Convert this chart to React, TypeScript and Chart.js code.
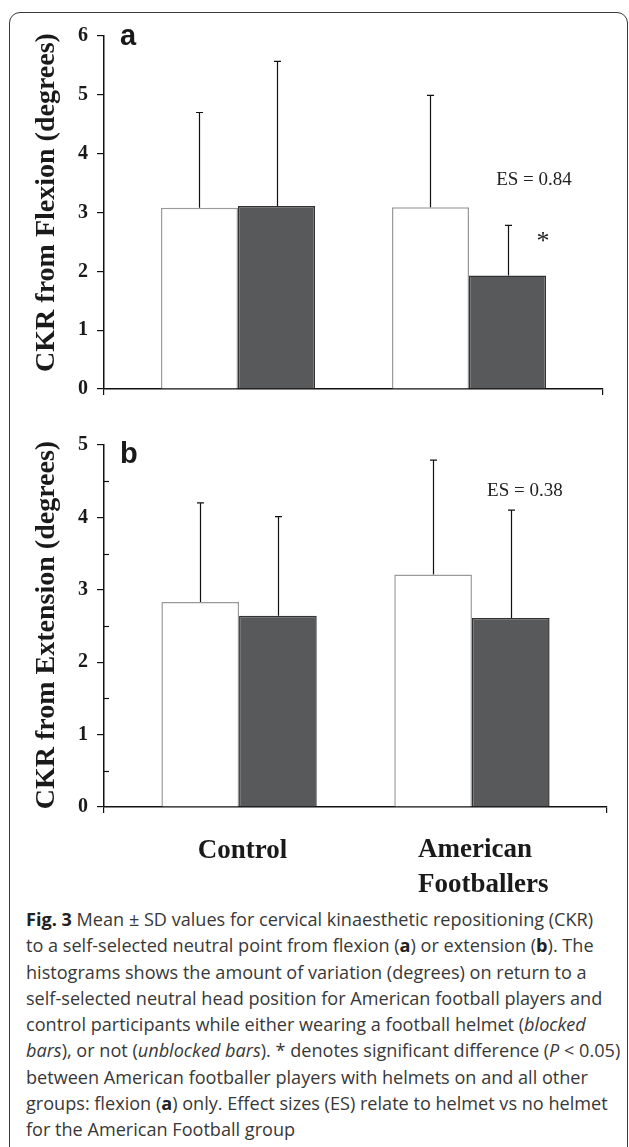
import React, { useEffect, useRef } from 'react';
import { Chart, registerables } from 'chart.js';

Chart.register(...registerables);

// ---- data ----
const categories = ['Control', 'American Footballers'];
const seriesNames = ['No helmet', 'Helmet'];

const flexionNoHelmetMean = [3.08, 3.09];
const flexionNoHelmetSD = [1.62, 1.9];
const flexionHelmetMean = [3.11, 1.93];
const flexionHelmetSD = [2.46, 0.85];

const extensionNoHelmetMean = [2.83, 3.21];
const extensionNoHelmetSD = [1.37, 1.58];
const extensionHelmetMean = [2.64, 2.61];
const extensionHelmetSD = [1.37, 1.49];

const flexionAxisMax = 6;
const extensionAxisMax = 5;
const extensionMinorTicks = [0.5, 1.5, 2.5, 3.5, 4.5];

const flexionTitle = 'CKR from Flexion (degrees)';
const extensionTitle = 'CKR from Extension (degrees)';
const flexionES = 'ES = 0.84';
const extensionES = 'ES = 0.38';

const SERIF = '"Liberation Serif", "Times New Roman", serif';
const SANS = '"Liberation Sans", Arial, sans-serif';

const errorBarPlugin = {
  id: 'errorBars',
  afterDatasetsDraw(chart: any) {
    const ctx = chart.ctx;
    const y = chart.scales.y;
    chart.data.datasets.forEach((ds: any, di: number) => {
      const meta = chart.getDatasetMeta(di);
      meta.data.forEach((bar: any, i: number) => {
        const mean = ds.data[i].y;
        const top = y.getPixelForValue(mean + ds.sd[i]);
        const x = Math.round(bar.x) + 0.5;
        ctx.save();
        ctx.strokeStyle = '#111';
        ctx.lineWidth = 1.2;
        ctx.beginPath();
        ctx.moveTo(x, bar.y);
        ctx.lineTo(x, top);
        ctx.moveTo(x - 3.5, top);
        ctx.lineTo(x + 3.5, top);
        ctx.stroke();
        ctx.restore();
      });
    });
  },
};

function makeConfig(
  noMean: number[],
  noSD: number[],
  hMean: number[],
  hSD: number[],
  yMax: number,
  padTop: number,
  padRight: number,
  xHeight: number,
  extras: (chart: any) => void
) {
  return {
    type: 'bar',
    data: {
      datasets: [
        {
          label: seriesNames[0],
          data: noMean.map((v, i) => ({ x: i + 1, y: v })),
          sd: noSD,
          backgroundColor: '#ffffff',
          borderColor: '#9a9a9a',
          borderWidth: 1.5,
        },
        {
          label: seriesNames[1],
          data: hMean.map((v, i) => ({ x: i + 1, y: v })),
          sd: hSD,
          backgroundColor: '#58595b',
          borderColor: '#333333',
          borderWidth: 1.5,
        },
      ],
    },
    options: {
      responsive: false,
      animation: false,
      events: [],
      categoryPercentage: 0.667,
      barPercentage: 1,
      layout: { padding: { top: padTop, right: padRight, left: 0, bottom: 0 } },
      plugins: { legend: { display: false }, tooltip: { enabled: false }, title: { display: false } },
      scales: {
        x: {
          type: 'linear',
          offset: false,
          min: 0.42,
          max: 2.58,
          afterBuildTicks: (s: any) => {
            s.ticks = [{ value: s.min }, { value: s.max }];
          },
          afterFit: (s: any) => {
            s.height = xHeight;
          },
          ticks: { display: false },
          grid: { display: true, offset: false, drawOnChartArea: false, drawTicks: true, tickLength: 6, color: '#111', lineWidth: 1.2 },
          border: { display: true, color: '#111', width: 1.5 },
        },
        y: {
          min: 0,
          max: yMax,
          afterFit: (s: any) => {
            s.width = 104;
          },
          ticks: {
            stepSize: 1,
            padding: 9,
            color: '#1a1a1a',
            font: { family: SERIF, size: 20, weight: 'bold' },
          },
          grid: { display: true, drawOnChartArea: false, drawTicks: true, tickLength: 7, color: '#111', lineWidth: 1.2 },
          border: { display: true, color: '#111', width: 1.5 },
        },
      },
    },
    plugins: [
      errorBarPlugin,
      {
        id: 'annotations',
        afterDraw(chart: any) {
          extras(chart);
        },
      },
    ],
  };
}

function drawTitle(ctx: CanvasRenderingContext2D, text: string, x: number, y: number) {
  ctx.save();
  ctx.translate(x, y);
  ctx.rotate(-Math.PI / 2);
  ctx.font = `bold 28px ${SERIF}`;
  ctx.fillStyle = '#1a1a1a';
  ctx.textAlign = 'center';
  ctx.textBaseline = 'middle';
  ctx.fillText(text, 0, 0);
  ctx.restore();
}

function drawPanelLetter(ctx: CanvasRenderingContext2D, text: string, x: number, y: number) {
  ctx.save();
  ctx.font = `bold 29px ${SANS}`;
  ctx.fillStyle = '#1a1a1a';
  ctx.textAlign = 'left';
  ctx.textBaseline = 'alphabetic';
  ctx.fillText(text, x, y);
  ctx.restore();
}

function drawES(ctx: CanvasRenderingContext2D, text: string, x: number, y: number) {
  ctx.save();
  ctx.font = `19px ${SERIF}`;
  ctx.fillStyle = '#222';
  ctx.textAlign = 'center';
  ctx.textBaseline = 'middle';
  ctx.fillText(text, x, y);
  ctx.restore();
}

const extrasA = (chart: any) => {
  const { ctx, chartArea } = chart;
  const xs = chart.scales.x;
  const ys = chart.scales.y;
  drawTitle(ctx, flexionTitle, chartArea.left - 57, (chartArea.top + chartArea.bottom) / 2 - 10);
  drawPanelLetter(ctx, 'a', chartArea.left + 16, chartArea.top + 9);
  drawES(ctx, flexionES, xs.getPixelForValue(2) + 65, ys.getPixelForValue(3.55));
  ctx.save();
  ctx.font = `26px ${SERIF}`;
  ctx.fillStyle = '#222';
  ctx.textAlign = 'center';
  ctx.textBaseline = 'middle';
  ctx.fillText('*', xs.getPixelForValue(2) + 74, ys.getPixelForValue(2.5));
  ctx.restore();
};

const extrasB = (chart: any) => {
  const { ctx, chartArea } = chart;
  const xs = chart.scales.x;
  const ys = chart.scales.y;
  drawTitle(ctx, extensionTitle, chartArea.left - 57, (chartArea.top + chartArea.bottom) / 2 - 1);
  drawPanelLetter(ctx, 'b', chartArea.left + 16, chartArea.top + 18);
  drawES(ctx, extensionES, xs.getPixelForValue(2) + 53, ys.getPixelForValue(4.37));
  // minor ticks (inside)
  ctx.save();
  ctx.strokeStyle = '#111';
  ctx.lineWidth = 1.2;
  extensionMinorTicks.forEach((v) => {
    const py = Math.round(ys.getPixelForValue(v)) + 0.5;
    ctx.beginPath();
    ctx.moveTo(chartArea.left, py);
    ctx.lineTo(chartArea.left + 5, py);
    ctx.stroke();
  });
  ctx.restore();
  // category labels
  ctx.save();
  ctx.font = `bold 27px ${SERIF}`;
  ctx.fillStyle = '#1a1a1a';
  ctx.textBaseline = 'alphabetic';
  ctx.textAlign = 'center';
  ctx.fillText(categories[0], xs.getPixelForValue(1) + 3.5, chartArea.bottom + 51);
  ctx.textAlign = 'left';
  const words = categories[1].split(' ');
  const lx = xs.getPixelForValue(2) - 54;
  ctx.fillText(words[0], lx, chartArea.bottom + 50);
  ctx.fillText(words[1], lx, chartArea.bottom + 85);
  ctx.restore();
};

const captionStyle: React.CSSProperties = {
  position: 'absolute',
  left: 26,
  top: 906,
  width: 600,
  fontFamily: '"Open Sans", sans-serif',
  fontSize: 18.1,
  lineHeight: '26.3px',
  color: '#383838',
  whiteSpace: 'nowrap',
};

export default function App() {
  const refA = useRef<HTMLCanvasElement>(null);
  const refB = useRef<HTMLCanvasElement>(null);

  useEffect(() => {
    const a = new Chart(
      refA.current as HTMLCanvasElement,
      makeConfig(flexionNoHelmetMean, flexionNoHelmetSD, flexionHelmetMean, flexionHelmetSD, flexionAxisMax, 36, 26, 14, extrasA) as any
    );
    const b = new Chart(
      refB.current as HTMLCanvasElement,
      makeConfig(extensionNoHelmetMean, extensionNoHelmetSD, extensionHelmetMean, extensionHelmetSD, extensionAxisMax, 35, 22, 93, extrasB) as any
    );
    return () => {
      a.destroy();
      b.destroy();
    };
  }, []);

  const B = (t: string) => <b style={{ color: '#222' }}>{t}</b>;
  const I = (t: string) => <i>{t}</i>;

  return (
    <div style={{ position: 'absolute', left: 0, top: 0, width: 629, height: 1147, background: '#fff', overflow: 'hidden' }}>
      <div
        style={{
          position: 'absolute',
          left: 9,
          top: 12,
          width: 619,
          height: 1150,
          border: '1.5px solid #3a3a3a',
          borderRadius: 11,
          boxSizing: 'border-box',
        }}
      />
      <canvas ref={refA} width={629} height={410} style={{ position: 'absolute', left: 0, top: 0, width: 629, height: 410 }} />
      <canvas ref={refB} width={629} height={490} style={{ position: 'absolute', left: 0, top: 410, width: 629, height: 490 }} />
      <div style={captionStyle}>
        <div>{B('Fig. 3')} Mean ± SD values for cervical kinaesthetic repositioning (CKR)</div>
        <div>to a self-selected neutral point from flexion ({B('a')}) or extension ({B('b')}). The</div>
        <div>histograms shows the amount of variation (degrees) on return to a</div>
        <div>self-selected neutral head position for American football players and</div>
        <div>control participants while either wearing a football helmet ({I('blocked')}</div>
        <div>{I('bars')}), or not ({I('unblocked bars')}). * denotes significant difference ({I('P')} &lt; 0.05)</div>
        <div>between American footballer players with helmets on and all other</div>
        <div>groups: flexion ({B('a')}) only. Effect sizes (ES) relate to helmet vs no helmet</div>
        <div>for the American Football group</div>
      </div>
    </div>
  );
}
